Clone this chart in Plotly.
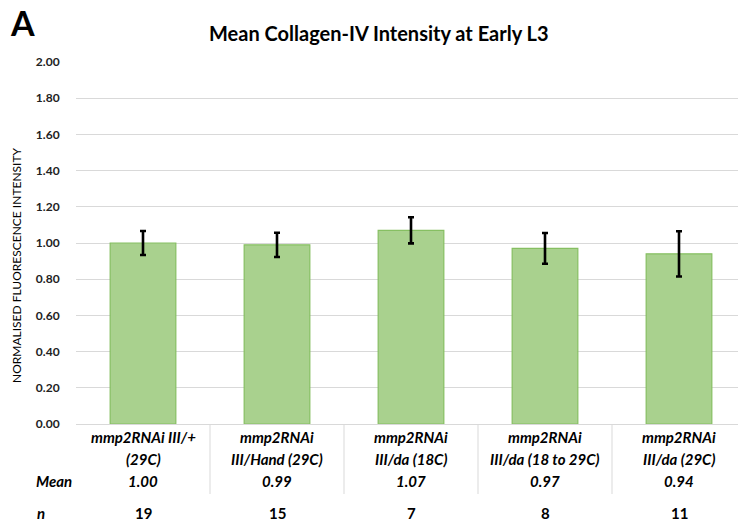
import plotly.graph_objects as go

categories_line1 = ["mmp2RNAi III/+", "mmp2RNAi", "mmp2RNAi", "mmp2RNAi", "mmp2RNAi"]
categories_line2 = ["(29C)", "III/Hand (29C)", "III/da (18C)", "III/da (18 to 29C)", "III/da (29C)"]
mean_values = [1.00, 0.99, 1.07, 0.97, 0.94]
error_values = [0.066, 0.067, 0.072, 0.085, 0.125]
mean_labels = ["1.00", "0.99", "1.07", "0.97", "0.94"]
n_labels = ["19", "15", "7", "8", "11"]
y_ticks = [0.0, 0.2, 0.4, 0.6, 0.8, 1.0, 1.2, 1.4, 1.6, 1.8, 2.0]

W, H = 738, 525
L, T, B = 76, 62, 101
PLOT_W = W - L
PLOT_H = H - T - B
FONT = "Lato"
idx = list(range(len(mean_values)))


def px_x(px):
    return (px - L) / PLOT_W


def px_y(py):
    return (H - B - py) / PLOT_H


fig = go.Figure()
fig.add_trace(go.Bar(
    x=idx, y=mean_values, width=0.49,
    marker=dict(color="#a9d18e", line=dict(color="#86bf62", width=1.2)),
    error_y=dict(type="data", array=error_values, visible=True,
                 color="black", thickness=2.6, width=3),
    hoverinfo="skip",
))

f14 = dict(family=FONT, size=15, color="black")
ann = []
for i in idx:
    for py, txt in [(437, "<b><i>%s</i></b>" % categories_line1[i]),
                    (459, "<b><i>%s</i></b>" % categories_line2[i]),
                    (481, "<b><i>%s</i></b>" % mean_labels[i]),
                    (513, "<b>%s</b>" % n_labels[i])]:
        ann.append(dict(x=i, y=px_y(py), xref="x", yref="paper", xanchor="center", yanchor="middle",
                        text=txt, showarrow=False, font=f14))

ann.append(dict(x=px_x(34), y=px_y(481), xref="paper", yref="paper", xanchor="left", yanchor="middle",
                text="<b><i>Mean</i></b>", showarrow=False, font=f14))
ann.append(dict(x=px_x(35), y=px_y(513), xref="paper", yref="paper", xanchor="left", yanchor="middle",
                text="<b><i>n</i></b>", showarrow=False, font=f14))
ann.append(dict(x=px_x(379), y=px_y(33), xref="paper", yref="paper", xanchor="center", yanchor="middle",
                text="<b>Mean Collagen-IV Intensity at Early L3</b>", showarrow=False,
                font=dict(family=FONT, size=20, color="black")))
ann.append(dict(x=px_x(8), y=px_y(22), xref="paper", yref="paper", xanchor="left", yanchor="middle",
                text="<b>A</b>", showarrow=False, font=dict(family=FONT, size=34, color="black")))
ann.append(dict(x=px_x(16), y=px_y(265), xref="paper", yref="paper", xanchor="center", yanchor="middle",
                textangle=-90, text="NORMALISED FLUORESCENCE INTENSITY", showarrow=False,
                font=dict(family=FONT, size=12, color="black")))

shapes = []
for b in [0.5, 1.5, 2.5, 3.5]:
    shapes.append(dict(type="line", xref="x", yref="paper", x0=b, x1=b, y0=0, y1=px_y(494),
                       line=dict(color="#d9d9d9", width=1)))

fig.update_layout(
    width=W, height=H,
    margin=dict(l=L, r=0, t=T, b=B),
    paper_bgcolor="white", plot_bgcolor="white",
    showlegend=False,
    annotations=ann, shapes=shapes,
    xaxis=dict(range=[-0.5, 4.5 - 8 / 134], showticklabels=False, ticks="",
               showgrid=False, zeroline=False, showline=True, linecolor="#d9d9d9", linewidth=1),
    yaxis=dict(range=[0, 2.0], tickvals=y_ticks, ticktext=["<b>%.2f</b>" % v for v in y_ticks],
               tickfont=dict(family=FONT, size=12, color="#222222"),
               showgrid=True, gridcolor="#d9d9d9", gridwidth=1, zeroline=False,
               ticks="outside", ticklen=13, tickcolor="white", showline=False),
)
fig.write_html("out.html")
